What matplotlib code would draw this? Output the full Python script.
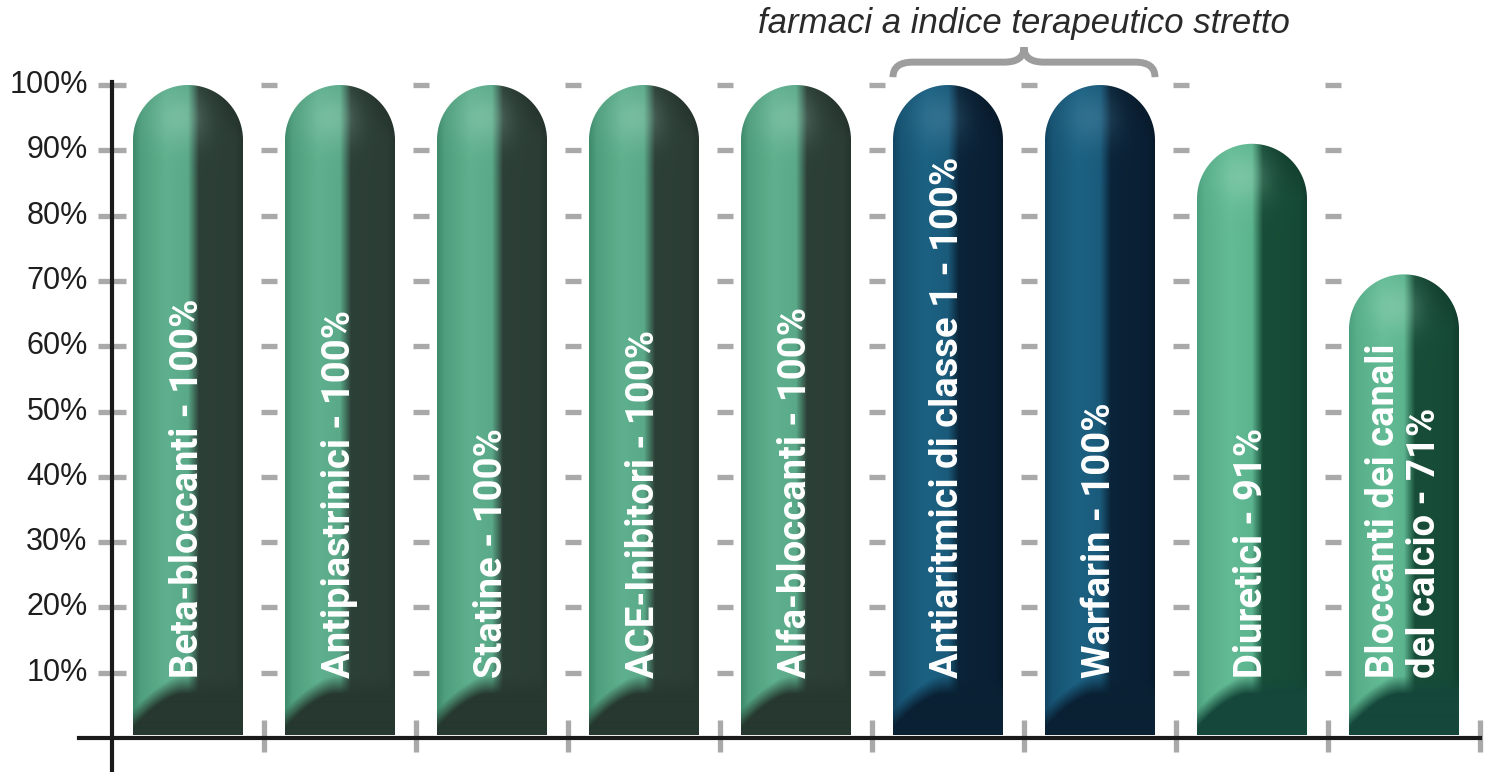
import matplotlib
matplotlib.use("Agg")
import matplotlib.pyplot as plt
import numpy as np
from matplotlib.patches import PathPatch
from matplotlib.path import Path

# data
categories = ["Beta-bloccanti", "Antipiastrinici", "Statine", "ACE-Inibitori",
              "Alfa-bloccanti", "Antiaritmici di classe 1", "Warfarin",
              "Diuretici", "Bloccanti dei canali\ndel calcio"]
values = [100, 100, 100, 100, 100, 100, 100, 91, 71]
groups = ["std", "std", "std", "std", "std", "nti", "nti", "alt", "alt"]
yticks = [10, 20, 30, 40, 50, 60, 70, 80, 90, 100]
bracket_title = "farmaci a indice terapeutico stretto"
bracket_members = [5, 6]

# colour stops: edge, mid, light, light, dark, dark, dark edge, bottom shadow, highlight
palettes = {
    "std": ["#3d8a6a", "#4f9e7d", "#5fb08e", "#5aaa89", "#2d4038", "#2b3d35", "#25352e", "#26382f", "#a8d8c4"],
    "nti": ["#114461", "#175473", "#1c6182", "#1a5b7b", "#0b2439", "#0a1f33", "#071a2a", "#0a2134", "#5a92ae"],
    "alt": ["#4b9f7e", "#57ae89", "#63bb95", "#5db590", "#184e39", "#164a36", "#123f2e", "#15473a", "#a8dcc4"],
}

W_PX, H_PX, DPI = 1487, 772, 100
X0_PX, STEP_PX = 188, 152       # first bar centre, bar spacing
Y0_PX, PX_PER_PCT = 738, 6.53   # baseline, pixels per percent
BAR_W_PX = 110

fig = plt.figure(figsize=(W_PX / DPI, H_PX / DPI), dpi=DPI)
ax = fig.add_axes([0, 0, 1, 1])
ax.set_xlim(-X0_PX / STEP_PX, (W_PX - X0_PX) / STEP_PX)
ax.set_ylim(-(H_PX - Y0_PX) / PX_PER_PCT, Y0_PX / PX_PER_PCT)
ax.axis("off")

hw = BAR_W_PX / STEP_PX / 2
ry = (BAR_W_PX / 2) / PX_PER_PCT
base = 0.4


def hex2rgb(h):
    return np.array([int(h[i:i + 2], 16) / 255 for i in (1, 3, 5)])


def bar_image(val, pal):
    w = BAR_W_PX
    h = int(round((val - base) * PX_PER_PCT))
    r = BAR_W_PX / 2
    u = (np.arange(w) + 0.5) / w
    v = np.arange(h) + 0.5
    U, V = np.meshgrid(u, v)
    stops = [0.0, 0.07, 0.3, 0.5, 0.6, 0.93, 1.0]
    cols = np.array([hex2rgb(c) for c in pal[:7]])
    img = np.zeros((h, w, 3))
    for k in range(3):
        img[..., k] = np.interp(U, stops, cols[:, k])
    # highlight on the rounded top
    d2 = ((U - 0.42) * w) ** 2 + (V - (h - 0.62 * r)) ** 2
    hl = 0.35 * np.exp(-d2 / (2 * 18 ** 2))
    img = img * (1 - hl[..., None]) + hex2rgb(pal[8]) * hl[..., None]
    # darker right side of the cap
    cap = np.clip((V - (h - r)) / r, 0, 1) * np.clip((U - 0.55) / 0.45, 0, 1)
    img = img * (1 - 0.3 * cap[..., None])
    # soft shadow at the bottom
    curve = 50 - 34 * np.clip((0.45 - U) / 0.45, 0, 1) ** 1.6
    t = np.clip((curve - V) / 18 + 0.5, 0, 1)
    img = img * (1 - t[..., None]) + hex2rgb(pal[7]) * t[..., None]
    return img


for i, (cat, val, grp) in enumerate(zip(categories, values, groups)):
    pal = palettes[grp]
    top = val
    theta = np.linspace(0, np.pi, 80)
    verts = [(i - hw, base), (i + hw, base), (i + hw, top - ry)]
    verts += list(zip(i + hw * np.cos(theta), top - ry + ry * np.sin(theta)))
    verts += [(i - hw, base)]
    codes = [Path.MOVETO] + [Path.LINETO] * (len(verts) - 2) + [Path.CLOSEPOLY]
    patch = PathPatch(Path(verts, codes), facecolor="none", edgecolor="none")
    ax.add_patch(patch)
    im = ax.imshow(bar_image(val, pal), extent=(i - hw, i + hw, base, top),
                   origin="lower", aspect="auto", interpolation="bilinear", zorder=2)
    im.set_clip_path(patch)
    ax.text(i, 9.2, f"{cat} - {val}%", rotation=90, rotation_mode="anchor",
            ha="left", va="center", color="white", fontsize=27.5, fontweight="bold",
            family=["Roboto", "DejaVu Sans"], linespacing=1.12, zorder=3)

# grid dashes in the gaps between bars and at the axis
n = len(categories)
for y in yticks:
    ax.plot([-0.5 - 0.092, -0.5 + 0.092], [y, y], color="#a9a9a9", lw=3.8,
            solid_capstyle="butt", zorder=1)
    for g in range(n - 1):
        ax.plot([g + 0.48, g + 0.585], [y, y], color="#a9a9a9", lw=3.8,
                solid_capstyle="butt", zorder=1)
    ax.text(-0.66, y, f"{y}%", ha="right", va="center", fontsize=22,
            color="#1e1e1e", family=["Liberation Sans", "DejaVu Sans"])

# x ticks
for g in range(n):
    ax.plot([g + 0.5, g + 0.5], [2.8, -2.2], color="#a9a9a9", lw=3.8,
            solid_capstyle="butt", zorder=1)

# axes lines
ax.plot([-0.72, n - 0.5], [0, 0], color="#1a1a1a", lw=3, zorder=4)
ax.plot([-0.5, -0.5], [100.4, -6], color="#1a1a1a", lw=3, zorder=4)

# curly bracket over the narrow therapeutic index group
xa = bracket_members[0] - hw
xb = bracket_members[-1] + hw
xm = (xa + xb) / 2
yb, yh, yt = 101.2, 103.5, 105.8
c = 0.13
bverts = [(xa, yb), (xa, yh), (xa + c, yh),
          (xm - c, yh), (xm, yh), (xm, yt),
          (xm, yh), (xm + c, yh),
          (xb - c, yh), (xb, yh), (xb, yb)]
bcodes = [Path.MOVETO, Path.CURVE3, Path.CURVE3,
          Path.LINETO, Path.CURVE3, Path.CURVE3,
          Path.CURVE3, Path.CURVE3,
          Path.LINETO, Path.CURVE3, Path.CURVE3]
ax.add_patch(PathPatch(Path(bverts, bcodes), facecolor="none", edgecolor="#9d9d9d",
                       lw=5, capstyle="butt", zorder=1))
ax.text(xm, 109.4, bracket_title, ha="center", va="center", fontsize=25,
        style="italic", color="#2a2a2a", family=["Liberation Sans", "DejaVu Sans"])

fig.savefig("out.png", dpi=DPI)
